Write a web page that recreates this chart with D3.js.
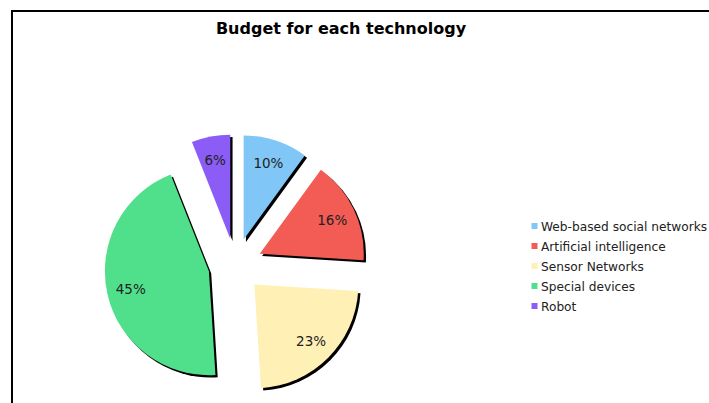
<!DOCTYPE html>
<html>
<head>
<meta charset="utf-8">
<script src="https://cdn.jsdelivr.net/npm/d3@7/dist/d3.min.js"></script>
<style>
  html, body { margin: 0; padding: 0; background: #fff; }
  svg { display: block; }
  text { font-family: "DejaVu Sans", sans-serif; }
</style>
</head>
<body>
<div id="chart"></div>
<script>
// Budget share per technology (percent)
const categories = [
  "Web-based social networks",
  "Artificial intelligence",
  "Sensor Networks",
  "Special devices",
  "Robot"
];
const budgetShare = [10, 16, 23, 45, 6];
const sliceColors = ["#80c6f6", "#f25c55", "#fff0b6", "#50e08b", "#8b5cf6"];
// Every slice is pulled out from the centre by this fraction of the radius
const explode = [0.26, 0.26, 0.26, 0.26, 0.26];

const W = 709, H = 403;
const radius = 104;
const cx = 235.3, cy = 265.3;
const labelDistance = 0.77;
const shadowOffset = 2.3;

const svg = d3.select("#chart").append("svg")
  .attr("width", W).attr("height", H);

// Figure frame
svg.append("rect")
  .attr("x", 12).attr("y", 11)
  .attr("width", 900).attr("height", 600)
  .attr("fill", "none").attr("stroke", "#000").attr("stroke-width", 2);

svg.append("text")
  .attr("x", 341).attr("y", 33.5)
  .attr("text-anchor", "middle")
  .attr("font-size", 16).attr("font-weight", "bold")
  .attr("fill", "#000")
  .text("Budget for each technology");

const data = categories.map((c, i) => ({ name: c, value: budgetShare[i], color: sliceColors[i], explode: explode[i] }));

const pie = d3.pie().sort(null).value(d => d.value).startAngle(0).endAngle(2 * Math.PI);
const arcs = pie(data);
const arc = d3.arc().innerRadius(0).outerRadius(radius);

const pieG = svg.append("g").attr("transform", `translate(${cx},${cy})`);

function offset(a) {
  const mid = (a.startAngle + a.endAngle) / 2;
  const e = a.data.explode * radius;
  return [Math.sin(mid) * e, -Math.cos(mid) * e];
}

// Drop shadows underneath the wedges
pieG.selectAll("path.shadow").data(arcs).join("path")
  .attr("class", "shadow")
  .attr("transform", a => { const [dx, dy] = offset(a); return `translate(${dx + shadowOffset},${dy + shadowOffset})`; })
  .attr("d", arc)
  .attr("fill", "#000");

pieG.selectAll("path.slice").data(arcs).join("path")
  .attr("class", "slice")
  .attr("transform", a => { const [dx, dy] = offset(a); return `translate(${dx},${dy})`; })
  .attr("d", arc)
  .attr("fill", a => a.data.color);

// Percentage labels
const total = d3.sum(budgetShare);
pieG.selectAll("text.pct").data(arcs).join("text")
  .attr("class", "pct")
  .attr("transform", a => {
    const [dx, dy] = offset(a);
    const mid = (a.startAngle + a.endAngle) / 2;
    const r = labelDistance * radius;
    return `translate(${dx + Math.sin(mid) * r},${dy - Math.cos(mid) * r})`;
  })
  .attr("text-anchor", "middle")
  .attr("dominant-baseline", "central")
  .attr("font-size", 13.5)
  .attr("fill", "#222")
  .text(a => `${Math.round(a.data.value / total * 100)}%`);

// Legend
const legend = svg.append("g").attr("transform", "translate(531.5,226.5)");
const rowH = 20;
const rows = legend.selectAll("g").data(data).join("g")
  .attr("transform", (d, i) => `translate(0,${i * rowH})`);
rows.append("rect")
  .attr("x", 0).attr("y", -3.5).attr("width", 6).attr("height", 6)
  .attr("fill", d => d.color);
rows.append("text")
  .attr("x", 9.5).attr("y", 0)
  .attr("dominant-baseline", "central")
  .attr("font-size", 12.2)
  .attr("fill", "#222")
  .text(d => d.name);
</script>
</body>
</html>
